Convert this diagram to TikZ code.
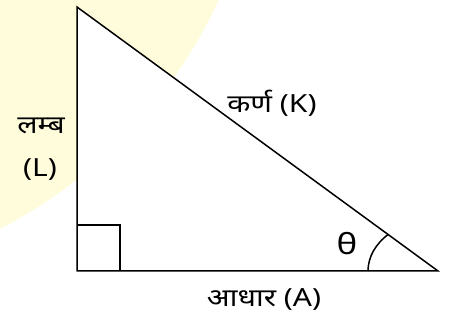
\documentclass[tikz,border=0pt]{standalone}
\usepackage{fontspec}
\usepackage{tikz}
\usetikzlibrary{positioning,calc}
\newfontfamily\hindifont[Script=Devanagari,FakeStretch=1.2]{Noto Sans}
\definecolor{glow}{HTML}{FFFCDC}

\begin{document}
\begin{tikzpicture}[x=1pt, y=-1pt, line width=1.5pt,
  every node/.style={font=\hindifont\fontsize{25}{28}\selectfont, inner sep=0pt}]
  \useasboundingbox (0,0) rectangle (451,320);
  \clip (0,0) rectangle (451,320);
  \fill[glow] (-223,-203) circle[radius=486];
  \coordinate (tp) at (77,7);
  \coordinate (bl) at (77,271);
  \coordinate (br) at (438,271);
  \filldraw[fill=white] (tp) -- (bl) -- (br) -- cycle;
  \draw (bl) ++(0,-46) -| ($(bl)+(43,0)$);
  \draw (br) ++(-70,0) arc[start angle=180, end angle=225, x radius=70, y radius=52];
  \node (lamb) at (41,126) {लम्ब};
  \node (lbl) at (40,170) {(L)};
  \node (karn) at (272,103) {कर्ण (K)};
  \node (aadhar) at (264,300) {आधार (A)};
  \node[font=\hindifont\fontsize{29}{32}\selectfont] (theta) at (347,244) {θ};
\end{tikzpicture}
\end{document}
